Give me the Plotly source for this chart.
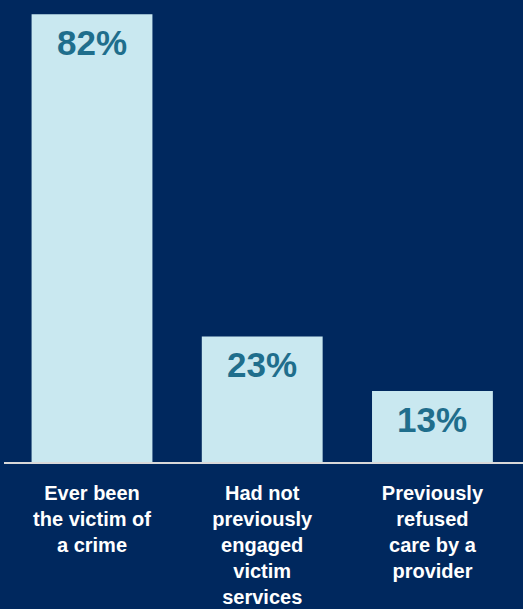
import plotly.graph_objects as go

categories = ["Ever been<br>the victim of<br>a crime",
              "Had not<br>previously<br>engaged<br>victim<br>services",
              "Previously<br>refused<br>care by a<br>provider"]
values = [82, 23, 13]
value_labels = ["82%", "23%", "13%"]

BG = "#00285e"
BAR = "#c9e8f0"
TXT = "#1f6e8c"

fig = go.Figure()
fig.add_trace(go.Bar(
    x=list(range(len(categories))), y=values, width=0.71,
    marker=dict(color=BAR, line=dict(width=0)),
    hoverinfo="skip",
))
for i, (v, t) in enumerate(zip(values, value_labels)):
    fig.add_annotation(x=i, y=v, text="<b>" + t + "</b>", showarrow=False, yanchor="top",
                       yshift=-7, font=dict(family="Liberation Sans", size=35, color=TXT))
fig.update_layout(
    width=523, height=609,
    margin=dict(l=4, r=0, t=0, b=147, autoexpand=False),
    paper_bgcolor=BG, plot_bgcolor=BG,
    showlegend=False,
    font=dict(family="Liberation Sans", color="white"),
)
fig.update_xaxes(
    range=[-0.517, 2.532], tickmode="array", tickvals=list(range(len(categories))),
    ticktext=["<b>" + c.replace("<br>", "</b><br><b>") + "</b>" for c in categories],
    tickfont=dict(family="Liberation Sans", size=20, color="white"),
    showgrid=False, zeroline=False, showline=True, linecolor="#d9d9d9", linewidth=2,
    ticks="", ticklabelstandoff=12, fixedrange=True, automargin=False,
)
fig.update_yaxes(range=[0, 84.6], visible=False, showgrid=False, zeroline=False, fixedrange=True)
fig.write_html("out.html", config={"displayModeBar": False})
